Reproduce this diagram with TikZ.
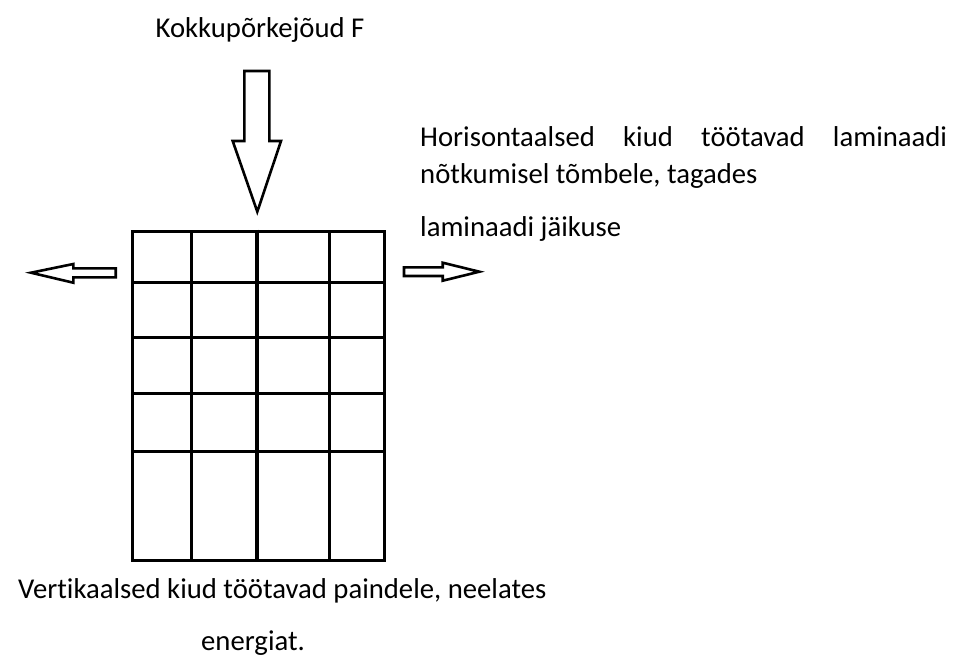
\documentclass[tikz,border=0pt]{standalone}
\usepackage{fontspec}
\setmainfont{Carlito}[Ligatures=NoCommon]
\begin{document}
\begin{tikzpicture}[x=1pt,y=-1pt,
  txt/.style={inner sep=0pt,anchor=base west,font=\fontsize{28.7}{34}\selectfont},
  gridline/.style={line width=3pt},
  bigarrow/.style={line width=2.6pt,line join=miter},
  sidearrow/.style={line width=2.6pt,line join=miter}]
\useasboundingbox[fill=white] (0,0) rectangle (966,657);
% grid
\draw[gridline] (132.7,231.7) rectangle (384,560);
\foreach \x in {191.7,329}
  \draw[gridline] (\x,231.7) -- (\x,560);
\draw[line width=3.8pt] (257.3,229.5) -- (257.3,562);
\foreach \y in {282.7,337.7,393.7,451}
  \draw[gridline] (132.7,\y) -- (384,\y);
% top arrow
\draw[bigarrow] (244.3,71) -- (269.3,71) -- (269.3,141) -- (281,141) -- (257.3,211.7)
  -- (232.7,141) -- (244.3,141) -- cycle;
% left arrow
\draw[sidearrow] (115.7,268.3) -- (73.3,268.3) -- (73.3,264) -- (31,272.7)
  -- (73.3,282.7) -- (73.3,277.3) -- (115.7,277.3) -- cycle;
% right arrow
\draw[sidearrow] (404,267.3) -- (442.7,267.3) -- (442.7,262.7) -- (479.3,271.7)
  -- (442.7,280.7) -- (442.7,276) -- (404,276) -- cycle;
% texts
\node[txt,anchor=base] (force) at (260,37.3) {Kokkupõrkejõud F};
\node[txt] (h1) at (420,146.7) {\hbox to 527pt{Horisontaalsed\hfill kiud\hfill töötavad\hfill laminaadi}};
\node[txt] (h2) at (420,183) {nõtkumisel tõmbele, tagades};
\node[txt] (h3) at (420,236.7) {laminaadi jäikuse};
\node[txt] (v1) at (18,598.3) {Vertikaalsed kiud töötavad paindele, neelates};
\node[txt] (v2) at (201,650) {energiat.};
\end{tikzpicture}
\end{document}
